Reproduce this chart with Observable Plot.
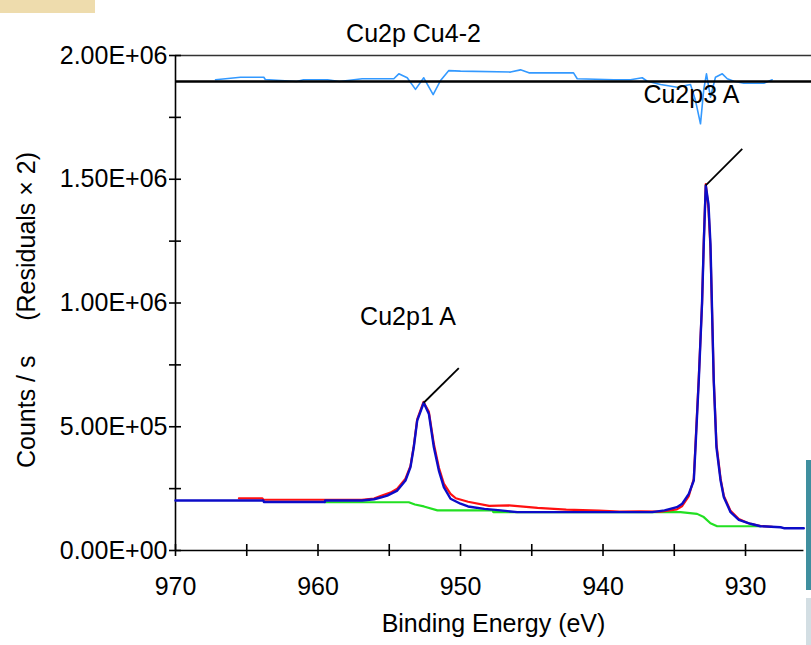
<!DOCTYPE html>
<html>
<head>
<meta charset="utf-8">
<script src="https://cdn.jsdelivr.net/npm/d3@7"></script>
<script src="https://cdn.jsdelivr.net/npm/@observablehq/plot@0.6"></script>
<style>
  body { margin: 0; background: #fff; }
  #chart { position: relative; width: 811px; height: 645px; overflow: hidden;
           font-family: "Liberation Sans", Arial, sans-serif; }
  #chart svg { position: absolute; left: 0; top: 0; }
  .edge { position: absolute; }
</style>
</head>
<body>
<div id="chart"></div>
<script>
// Cu 2p XPS region, sample Cu4-2
const title = "Cu2p Cu4-2";
const xLabel = "Binding Energy (eV)";
const yLabel = "Counts / s\u00a0\u00a0\u00a0\u00a0\u00a0(Residuals \u00d7 2)";

const xTicksMajor = [970, 960, 950, 940, 930];
const xTickLabels = ["970", "960", "950", "940", "930"];
const xTicksMinor = [965, 955, 945, 935];
const yTicksMajor = [0, 5e5, 1e6, 1.5e6, 2e6];
const yTickLabels = ["0.00E+00", "5.00E+05", "1.00E+06", "1.50E+06", "2.00E+06"];
const yTicksMinor = [2.5e5, 7.5e5, 1.25e6, 1.75e6];

// residual trace is drawn about this offset
const residualBase = 1.895e6;

// measured spectrum [binding energy eV, counts/s]
const measured = [
  [965.55, 2.11e5], [963.9, 2.11e5], [963.83, 2.05e5], [956.93, 2.05e5],
  [956.07, 2.10e5], [955.61, 2.20e5], [954.92, 2.34e5], [954.44, 2.50e5],
  [953.86, 2.90e5], [953.51, 3.42e5], [953.28, 4.22e5], [953.04, 5.30e5],
  [952.60, 6.00e5], [952.22, 5.60e5], [951.87, 4.30e5], [951.52, 3.35e5],
  [951.17, 2.70e5], [950.70, 2.29e5], [950.33, 2.11e5], [949.47, 1.97e5],
  [947.99, 1.80e5], [946.60, 1.82e5], [944.59, 1.72e5], [942.58, 1.65e5],
  [940.28, 1.61e5], [938.84, 1.57e5], [937.41, 1.58e5], [935.97, 1.57e5],
  [934.82, 1.66e5], [934.44, 1.80e5], [933.98, 2.20e5], [933.63, 2.90e5],
  [933.51, 4.30e5], [933.28, 7.00e5], [933.05, 1.00e6], [932.93, 1.25e6],
  [932.79, 1.48e6], [932.60, 1.38e6], [932.46, 1.22e6], [932.23, 6.90e5],
  [932.04, 4.30e5], [931.75, 2.90e5], [931.52, 2.20e5], [931.05, 1.60e5],
  [930.47, 1.27e5], [929.80, 1.10e5], [928.95, 9.9e4], [928.13, 9.6e4]
];

// fitted envelope
const envelope = [
  [970.00, 2.02e5], [963.83, 2.02e5], [963.80, 1.96e5], [959.52, 1.96e5],
  [959.50, 2.02e5], [956.90, 2.02e5], [956.07, 2.07e5], [955.61, 2.14e5],
  [955.14, 2.22e5], [954.44, 2.42e5], [953.86, 2.83e5], [953.51, 3.37e5],
  [953.28, 4.17e5], [953.04, 5.25e5], [952.58, 5.97e5], [952.22, 5.52e5],
  [951.87, 4.17e5], [951.52, 3.23e5], [951.17, 2.56e5], [950.70, 2.09e5],
  [950.00, 1.89e5], [949.47, 1.78e5], [948.32, 1.68e5], [947.19, 1.62e5],
  [946.02, 1.55e5], [936.55, 1.55e5], [935.68, 1.62e5], [934.82, 1.75e5],
  [934.44, 1.89e5], [933.98, 2.29e5], [933.63, 2.83e5], [933.51, 4.17e5],
  [933.28, 6.87e5], [933.05, 1.00e6], [932.93, 1.239e6], [932.79, 1.475e6],
  [932.60, 1.40e6], [932.46, 1.239e6], [932.23, 6.87e5], [932.04, 4.17e5],
  [931.75, 2.83e5], [931.52, 2.15e5], [931.05, 1.55e5], [930.47, 1.24e5],
  [929.65, 1.08e5], [928.95, 9.8e4], [927.54, 9.4e4], [927.31, 9.0e4],
  [925.91, 9.0e4]
];

// background
const background = [
  [959.52, 1.95e5], [953.63, 1.95e5], [953.20, 1.86e5], [952.57, 1.78e5],
  [951.62, 1.62e5], [947.75, 1.62e5], [947.70, 1.55e5], [934.56, 1.55e5],
  [933.40, 1.48e5], [932.93, 1.35e5], [932.46, 1.10e5], [931.99, 9.8e4],
  [928.95, 9.8e4]
];

// residuals (x2), offset by residualBase
const residuals = [
  [967.19, 1.902e6], [965.44, 1.912e6], [963.80, 1.912e6], [963.70, 1.903e6],
  [961.50, 1.895e6], [961.02, 1.902e6], [959.33, 1.902e6], [958.50, 1.895e6],
  [956.90, 1.906e6], [954.68, 1.906e6], [954.33, 1.926e6], [953.74, 1.910e6],
  [953.16, 1.863e6], [952.58, 1.910e6], [951.92, 1.842e6], [951.40, 1.899e6],
  [950.82, 1.939e6], [950.00, 1.937e6], [946.49, 1.933e6], [945.79, 1.942e6],
  [945.20, 1.930e6], [942.07, 1.930e6], [941.81, 1.906e6], [939.24, 1.902e6],
  [938.07, 1.902e6], [937.25, 1.910e6], [936.90, 1.896e6], [935.96, 1.883e6],
  [934.79, 1.872e6], [933.86, 1.883e6], [933.51, 1.818e6], [933.16, 1.724e6],
  [932.93, 1.863e6], [932.74, 1.926e6], [932.46, 1.832e6], [932.11, 1.912e6],
  [931.63, 1.926e6], [931.28, 1.906e6], [930.82, 1.896e6], [930.12, 1.888e6],
  [928.72, 1.888e6], [928.13, 1.902e6]
];

// component labels: peak apex, leader end, label anchor
const peakNames = ["Cu2p1 A", "Cu2p3 A"];
const peakEV = [952.58, 932.79];
const peakCounts = [5.97e5, 1.475e6];
const leaderEV = [950.12, 930.23];
const leaderCounts = [7.37e5, 1.623e6];
const labelEV = [953.68, 933.8];
const labelCounts = [9.45e5, 1.842e6];

const peaks = peakNames.map((name, i) => ({
  name, x1: peakEV[i], y1: peakCounts[i], x2: leaderEV[i], y2: leaderCounts[i],
  tx: labelEV[i], ty: labelCounts[i]
}));

const xStart = 970, xAxisEnd = 925.9, xEdge = 925.37;
const font = "Liberation Sans, Arial, sans-serif";
const fs = 25;
const noLabel = () => "";

const chart = Plot.plot({
  width: 811,
  height: 645,
  marginLeft: 175,
  marginRight: 0,
  marginTop: 55,
  marginBottom: 95,
  style: { fontFamily: font, fontSize: fs + "px", background: "transparent", overflow: "visible" },
  x: { domain: [xStart, xEdge], axis: null },
  y: { domain: [0, 2e6], axis: null },
  marks: [
    // residual trace under its zero line
    Plot.line(residuals, { x: d => d[0], y: d => d[1], stroke: "#3399ff", strokeWidth: 1.6 }),
    Plot.ruleY([2e6], { stroke: "#333", strokeWidth: 1.4 }),
    Plot.ruleY([residualBase], { stroke: "#000", strokeWidth: 2.4 }),
    // axes lines
    Plot.ruleY([0], { x1: xStart, x2: xAxisEnd, stroke: "#000", strokeWidth: 1.6 }),
    Plot.ruleX([xStart], { y1: 0, y2: 2e6, stroke: "#000", strokeWidth: 1.6 }),
    // tick marks crossing the axes
    Plot.axisY([...yTicksMajor, ...yTicksMinor], {
      anchor: "left", tickSize: 12, dx: 6, strokeWidth: 1.6, tickFormat: noLabel, label: null
    }),
    Plot.axisY(yTicksMajor, {
      anchor: "left", tickSize: 0, tickPadding: 8, label: null,
      tickFormat: d => yTickLabels[yTicksMajor.indexOf(d)], fontSize: fs, fill: "#000"
    }),
    Plot.axisX([...xTicksMajor, ...xTicksMinor], {
      anchor: "bottom", tickSize: 12, dy: -6, strokeWidth: 1.6, tickFormat: noLabel, label: null
    }),
    Plot.axisX(xTicksMajor, {
      anchor: "bottom", tickSize: 0, tickPadding: 27, label: null,
      tickFormat: d => xTickLabels[xTicksMajor.indexOf(d)], fontSize: fs, fill: "#000"
    }),
    // spectrum
    Plot.line(background, { x: d => d[0], y: d => d[1], stroke: "#22e022", strokeWidth: 2.2 }),
    Plot.line(measured, { x: d => d[0], y: d => d[1], stroke: "#ff1010", strokeWidth: 2.2 }),
    Plot.line(envelope, { x: d => d[0], y: d => d[1], stroke: "#0c0cc8", strokeWidth: 2.4 }),
    // component labels
    Plot.link(peaks, { x1: "x1", y1: "y1", x2: "x2", y2: "y2", stroke: "#000", strokeWidth: 1.8 }),
    Plot.text(peaks, { x: "tx", y: "ty", text: "name", fontSize: fs, fill: "#000" }),
    // titles
    Plot.text([title], { frameAnchor: "top", dx: -80, dy: -31, fontSize: fs, fill: "#000" }),
    Plot.text([xLabel], { frameAnchor: "bottom", dx: 0, dy: 81, fontSize: fs, fill: "#000" }),
    Plot.text([yLabel], {
      frameAnchor: "left", textAnchor: "middle", rotate: -90,
      dx: -149, dy: 7, fontSize: fs, fill: "#000"
    })
  ]
});

const root = document.getElementById("chart");
root.appendChild(chart);

// panels along the page edges
const edges = [
  { left: 0, top: 0, width: 95, height: 13, background: "#eedcad" },
  { left: 806, top: 460, width: 5, height: 130, background: "#3f8f9f" },
  { left: 806, top: 598, width: 5, height: 47, background: "#d3dee3" }
];
for (const e of edges) {
  const div = document.createElement("div");
  div.className = "edge";
  Object.assign(div.style, {
    left: e.left + "px", top: e.top + "px", width: e.width + "px",
    height: e.height + "px", background: e.background
  });
  root.appendChild(div);
}
</script>
</body>
</html>
